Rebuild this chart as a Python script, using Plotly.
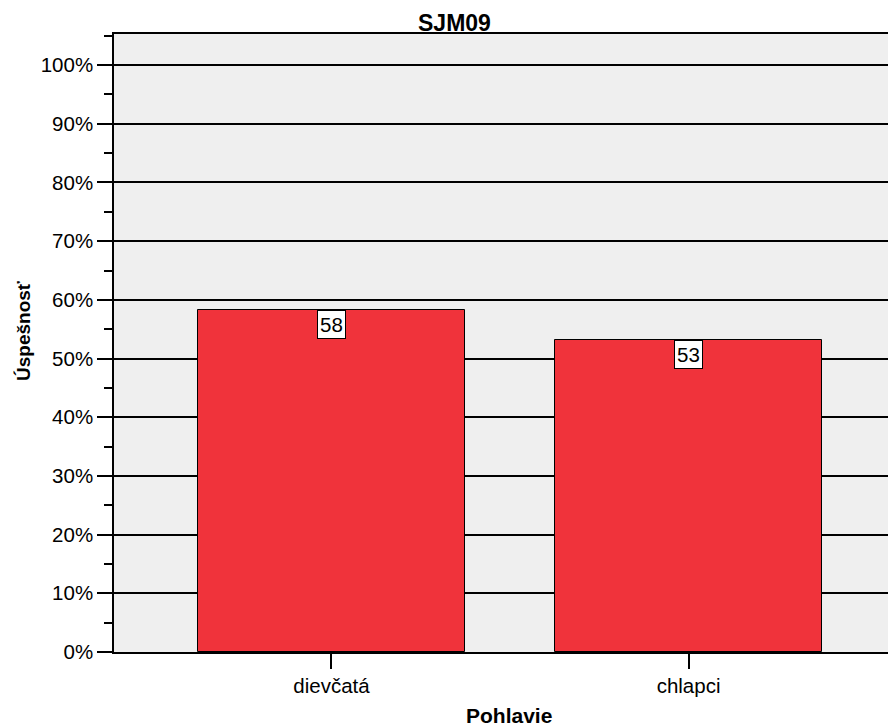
import plotly.graph_objects as go

categories = ["dievčatá", "chlapci"]
values = [58.2, 53.2]
labels = ["58", "53"]
title_text = "SJM09"
x_title = "Pohlavie"
y_title = "Úspešnosť"

FONT = "Arial, Liberation Sans, sans-serif"

# figure geometry (page has an 8px body margin)
W, H = 888, 718
L, R, T, B = 106, 0, 26, 74
PW, PH = W - L - R, H - T - B


def px(fx):
    return (fx - L) / PW


def py(fy):
    return (H - B - fy) / PH


fig = go.Figure()
fig.add_trace(go.Bar(
    x=categories, y=values, width=0.748,
    marker=dict(color="#F0333B", line=dict(color="black", width=1)),
    hoverinfo="skip",
))

for c, v, t in zip(categories, values, labels):
    fig.add_annotation(x=c, y=v, xref="x", yref="y", text=t, showarrow=False,
                       yanchor="top", xanchor="center",
                       bgcolor="white", bordercolor="black", borderwidth=1, borderpad=2,
                       font=dict(family=FONT, size=20.5, color="black"))

fig.add_annotation(x=px(446), y=py(15.5), xref="paper", yref="paper",
                   text="<b>" + title_text + "</b>", showarrow=False,
                   xanchor="center", yanchor="middle",
                   font=dict(family=FONT, size=23, color="black"))
fig.add_annotation(x=px(501), y=py(707), xref="paper", yref="paper",
                   text="<b>" + x_title + "</b>", showarrow=False,
                   xanchor="center", yanchor="middle",
                   font=dict(family=FONT, size=21, color="black"))
fig.add_annotation(x=px(15), y=py(323), xref="paper", yref="paper",
                   text="<b>" + y_title + "</b>", showarrow=False, textangle=-90,
                   xanchor="center", yanchor="middle",
                   font=dict(family=FONT, size=19, color="black"))

fig.update_layout(
    width=W, height=H,
    margin=dict(l=L, r=R, t=T, b=B, pad=0),
    paper_bgcolor="white", plot_bgcolor="#EFEFEF",
    showlegend=False,
    font=dict(family=FONT, size=20.5, color="black"),
    bargap=0,
    xaxis=dict(range=[-0.609, 1.581], showline=True, linecolor="black", linewidth=1.5,
               mirror=True, ticks="outside", ticklen=15, tickcolor="black", tickwidth=1.5,
               tickfont=dict(family=FONT, size=20.5), showgrid=False),
    yaxis=dict(range=[0, 105.3], dtick=10, ticksuffix="%", showline=True, linecolor="black",
               linewidth=1.5, ticks="outside", ticklen=15, tickcolor="black", tickwidth=1.5,
               showgrid=True, gridcolor="black", gridwidth=1.8, zeroline=False,
               tickfont=dict(family=FONT, size=20.5),
               minor=dict(ticks="outside", ticklen=8, dtick=5, tickcolor="black",
                          tickwidth=1.5, showgrid=False)),
)

fig.write_html("out.html")
